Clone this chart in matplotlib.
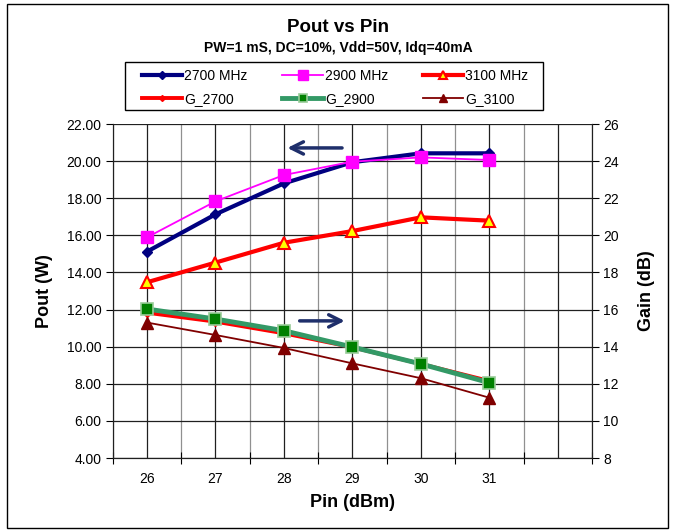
"""
Pout vs Pin with gain on a secondary axis
"""

import matplotlib.pyplot as plt
from matplotlib.patches import Rectangle

plt.rcParams['font.family'] = ['Liberation Sans', 'DejaVu Sans']

# Data
pin = [26, 27, 28, 29, 30, 31]
pout_2700 = [15.12, 17.13, 18.80, 19.94, 20.42, 20.42]
pout_2900 = [15.89, 17.83, 19.25, 19.97, 20.20, 20.06]
pout_3100 = [13.47, 14.53, 15.60, 16.23, 16.97, 16.79]
gain_2700 = [15.83, 15.35, 14.72, 13.97, 13.07, 12.15]
gain_2900 = [16.03, 15.49, 14.86, 13.98, 13.07, 12.06]
gain_3100 = [15.30, 14.63, 13.93, 13.10, 12.30, 11.25]

pout_ticks = [4, 6, 8, 10, 12, 14, 16, 18, 20, 22]
gain_ticks = [8, 10, 12, 14, 16, 18, 20, 22, 24, 26]

fig = plt.figure(figsize=(6.76, 5.31), dpi=100)
ax = fig.add_axes([112.7 / 676, 1 - 458 / 531, (592 - 112.7) / 676, (458 - 124) / 531])
ax2 = ax.twinx()

# Grid
for x in [25.5 + 0.5 * i for i in range(15)]:
    col = '#202020' if x == int(x) else '#909090'
    ax.axvline(x, color=col, linewidth=0.9, zorder=0)
for y in pout_ticks:
    ax.axhline(y, color='#202020', linewidth=0.9, zorder=0)

# Pout curves
l1, = ax.plot(pin, pout_2700, color='#000080', linewidth=3, marker='D', markersize=5,
              markerfacecolor='#000080', markeredgecolor='#000080', label='2700 MHz', zorder=3)
l2, = ax.plot(pin, pout_2900, color='#ff00ff', linewidth=1.3, marker='s', markersize=9,
              markerfacecolor='#ff00ff', markeredgecolor='#ff00ff', label='2900 MHz', zorder=4)
l3, = ax.plot(pin, pout_3100, color='#ff0000', linewidth=3, marker='^', markersize=8,
              markerfacecolor='#ffff00', markeredgecolor='#ff0000', markeredgewidth=1.5,
              label='3100 MHz', zorder=3)

# Gain curves
l4, = ax2.plot(pin, gain_2700, color='#ff0000', linewidth=2.8, marker='D', markersize=4,
               markerfacecolor='#ff0000', markeredgecolor='#ff0000', label='G_2700', zorder=3)
l5, = ax2.plot(pin, gain_2900, color='#339966', linewidth=3.5, marker='s', markersize=8,
               markerfacecolor='#008000', markeredgecolor='#99cc99', markeredgewidth=1.2,
               label='G_2900', zorder=4)
l6, = ax2.plot(pin, gain_3100, color='#800000', linewidth=1.3, marker='^', markersize=8,
               markerfacecolor='#800000', markeredgecolor='#800000', label='G_3100', zorder=3)

# Axes ranges and ticks
ax.set_xlim(25.5, 32.5)
ax.set_ylim(4, 22)
ax2.set_ylim(8, 26)
ax.set_xticks([25.5 + i for i in range(8)])
ax.set_xticks(pin, minor=True)
ax.set_xticklabels([])
ax.set_xticklabels([str(p) for p in pin], minor=True)
ax.tick_params(axis='x', which='major', direction='inout', length=8, width=0.8)
ax.tick_params(axis='x', which='minor', length=0, labelsize=10, pad=10)
ax.set_yticks(pout_ticks)
ax.set_yticklabels(['%.2f' % v for v in pout_ticks])
ax.tick_params(axis='y', direction='out', length=5, width=0.8, labelsize=10, pad=3)
ax2.set_yticks(gain_ticks)
ax2.set_yticklabels([str(v) for v in gain_ticks])
ax2.tick_params(axis='y', direction='out', length=5, width=0.8, labelsize=10, pad=3)

for a in (ax, ax2):
    for s in a.spines.values():
        s.set_linewidth(0.8)
        s.set_color('#202020')
    a.spines['top'].set_visible(False)

ax.set_xlabel('Pin (dBm)', fontsize=13, fontweight='bold', labelpad=6)
ax.set_ylabel('Pout (W)', fontsize=13, fontweight='bold', labelpad=10)
ax2.set_ylabel('Gain (dB)', fontsize=13, fontweight='bold', labelpad=14)

# Direction arrows
ax.annotate('', xy=(28.01, 20.71), xytext=(28.89, 20.71),
            arrowprops=dict(arrowstyle='->', color='#1f2f6b', lw=2.5, mutation_scale=22))
ax.annotate('', xy=(28.93, 11.39), xytext=(28.19, 11.39),
            arrowprops=dict(arrowstyle='->', color='#1f2f6b', lw=2.5, mutation_scale=22))

# Titles
fig.text(0.5, 1 - 28 / 531, 'Pout vs Pin', ha='center', va='center',
         fontsize=13.5, fontweight='bold')
fig.text(0.5, 1 - 48 / 531, 'PW=1 mS, DC=10%, Vdd=50V, Idq=40mA', ha='center', va='center',
         fontsize=10, fontweight='bold')

# Legend (row-major order: matplotlib fills columns first)
handles = [l1, l4, l2, l5, l3, l6]
leg = fig.legend(handles, [h.get_label() for h in handles],
                 ncol=3, loc='upper left', bbox_to_anchor=(142 / 676, 1 - 68.5 / 531),
                 fontsize=10, frameon=False, numpoints=1,
                 markerscale=0.75, handlelength=2.9, handletextpad=0.15, columnspacing=2.5,
                 borderaxespad=0, labelspacing=0.68, borderpad=0)
fig.patches.append(Rectangle((124.7 / 676, 1 - 110 / 531), 418 / 676, 47.7 / 531,
                             transform=fig.transFigure, fill=True, facecolor='white',
                             edgecolor='black', linewidth=1.0, zorder=0))

# Outer border
fig.patches.append(Rectangle((7 / 676, 3 / 531), 661 / 676, 524 / 531, transform=fig.transFigure,
                             fill=False, edgecolor='black', linewidth=1.0))

fig.savefig('out.png', dpi=100)
